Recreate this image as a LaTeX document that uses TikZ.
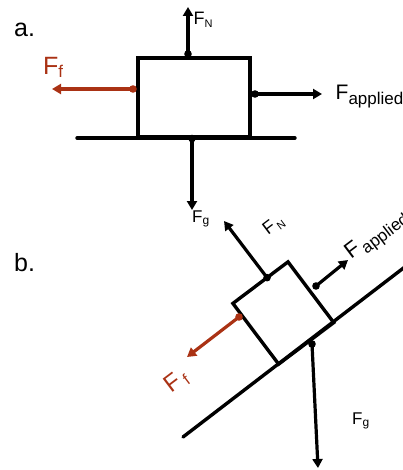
\documentclass[tikz,border=0pt]{standalone}
\usepackage{fontspec}
\setmainfont{Liberation Sans}
\usetikzlibrary{arrows.meta,positioning,calc}
\tikzset{
  forceln/.style={-{Triangle[length=9pt,width=10pt]}, line width=3.2pt},
  boxln/.style={draw, line width=3.4pt, inner sep=0pt, outer sep=0pt},
  groundln/.style={line width=3.4pt, line cap=round},
  lbl/.style={inner sep=0pt, anchor=base west},
}
\newcommand{\dotpt}[2]{%
  \fill[#1] #2 circle (3.8pt);
}
% F with a lowered subscript: F size, subscript size, drop, subscript
\newcommand{\flabel}[4]{{\fontsize{#1}{#1}\selectfont F}{\fontsize{#2}{#2}\selectfont\raisebox{-#3}{#4}}}
\definecolor{fricolor}{RGB}{170,50,20}

\begin{document}
\begin{tikzpicture}[x=1pt,y=-1pt]
    \useasboundingbox (0,0) rectangle (403,470);
    % a. block on level ground
    \node[lbl, font=\fontsize{25pt}{25pt}\selectfont] (taga) at (14,37) {a.};
    \coordinate (grounda-l) at (77,138);
    \coordinate (grounda-r) at (295,138);
    \draw[groundln] (grounda-l) -- (grounda-r);
    \node[boxln, minimum width=112pt, minimum height=79pt] (blocka) at (194,97.5) {};
    % normal force
    \coordinate (fna-dot) at ($(blocka.north)+(-6,-4)$);
    \coordinate (fna-tip) at (188,7);
    \draw[forceln] (fna-dot) -- (fna-tip);
    \dotpt{black}{(fna-dot)}
    \node[lbl] (fna-lbl) at (193.5,25) {\flabel{18pt}{11pt}{3pt}{N}};
    % friction
    \coordinate (ffa-dot) at ($(blocka.west)+(-5,-8.5)$);
    \coordinate (ffa-tip) at (52,89);
    \draw[forceln, fricolor] (ffa-dot) -- (ffa-tip);
    \dotpt{fricolor}{(ffa-dot)}
    \node[lbl, fricolor] (ffa-lbl) at (43,75) {\flabel{25pt}{17pt}{3pt}{f}};
    % applied force
    \coordinate (fappa-dot) at ($(blocka.east)+(5,-3.5)$);
    \coordinate (fappa-tip) at (322,94);
    \draw[forceln] (fappa-dot) -- (fappa-tip);
    \dotpt{black}{(fappa-dot)}
    \node[lbl] (fappa-lbl) at (335.5,100) {\flabel{21pt}{17pt}{5pt}{applied}};
    % gravity
    \coordinate (fga-dot) at ($(blocka.south)+(-2,1.5)$);
    \coordinate (fga-tip) at (192,210);
    \draw[forceln] (fga-dot) -- (fga-tip);
    \dotpt{black}{(fga-dot)}
    \node[lbl] (fga-lbl) at (192,222) {\flabel{17pt}{12pt}{2pt}{g}};

    % b. block on the incline
    \node[lbl, font=\fontsize{25pt}{25pt}\selectfont] (tagb) at (14,271) {b.};
    \coordinate (slope-l) at (183,437);
    \coordinate (slope-r) at (410,263);
    \draw[groundln] (slope-l) -- (slope-r);
    \node[boxln, rotate=37, minimum width=69pt, minimum height=76pt] (blockb) at (283.3,313) {};
    % normal force
    \coordinate (fnb-dot) at ($(blockb.north west)!0.62!(blockb.north east)$);
    \coordinate (fnb-tip) at (224,221);
    \draw[forceln] (fnb-dot) -- (fnb-tip);
    \dotpt{black}{(fnb-dot)}
    \node[lbl, rotate=37] (fnb-lbl) at (268,236) {\flabel{18pt}{11pt}{3pt}{\hspace{2pt}N}};
    % applied force
    \coordinate (fappb-dot) at (316,286);
    \coordinate (fappb-tip) at (348,260);
    \draw[forceln] (fappb-dot) -- (fappb-tip);
    \dotpt{black}{(fappb-dot)}
    \node[lbl, rotate=37] (fappb-lbl) at (351,260) {\flabel{22pt}{17pt}{5pt}{\hspace{2pt}applied}};
    % friction
    \coordinate (ffb-dot) at (239,317);
    \coordinate (ffb-tip) at (187,357);
    \draw[forceln, fricolor] (ffb-dot) -- (ffb-tip);
    \dotpt{fricolor}{(ffb-dot)}
    \node[lbl, rotate=37, fricolor] (ffb-lbl) at (171,394) {\flabel{24pt}{16pt}{3pt}{\hspace{4pt}f}};
    % gravity
    \coordinate (fgb-dot) at (312,344);
    \coordinate (fgb-tip) at (318,468);
    \draw[forceln] (fgb-dot) -- (fgb-tip);
    \dotpt{black}{(fgb-dot)}
    \node[lbl] (fgb-lbl) at (352,424) {\flabel{17pt}{12pt}{2pt}{g}};
\end{tikzpicture}
\end{document}
